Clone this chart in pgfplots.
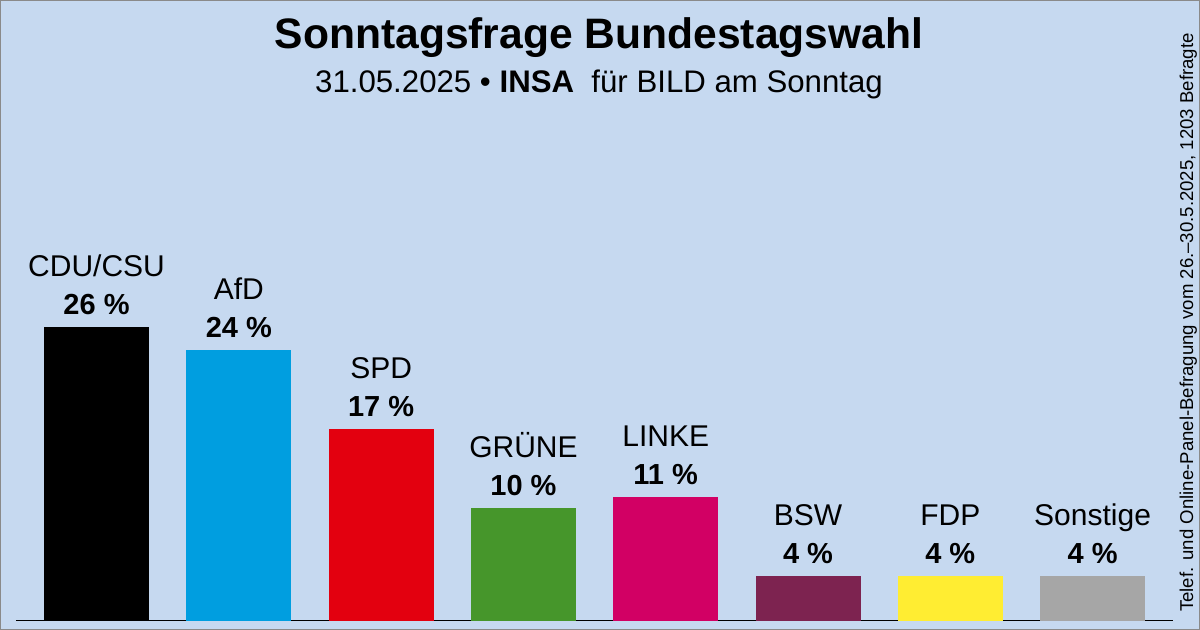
\documentclass[border=0pt]{standalone}
\usepackage{pgfplots}
\pgfplotsset{compat=1.18}
\usepackage{fontspec}
\setmainfont{Liberation Sans}

\definecolor{bg}{RGB}{198,217,240}
\definecolor{framegray}{RGB}{138,138,138}
\definecolor{cdu}{RGB}{0,0,0}
\definecolor{afd}{RGB}{0,158,224}
\definecolor{spd}{RGB}{227,0,15}
\definecolor{gruene}{RGB}{70,150,43}
\definecolor{linke}{RGB}{210,0,100}
\definecolor{bsw}{RGB}{125,35,80}
\definecolor{fdp}{RGB}{255,237,50}
\definecolor{sonst}{RGB}{166,166,166}

% one bar per party: colour, name
\pgfplotsset{
  party/.style 2 args={
    ybar, bar width=52.5pt, bar shift=0pt,
    fill=#1, draw=none,
    nodes near coords={#2\\{\fontsize{14.5}{19}\selectfont\bfseries\pgfmathprintnumber{\pgfplotspointmeta}~\%}},
  },
}

\begin{document}
\begin{tikzpicture}
% background and frame, 1px = 0.5pt
\fill[bg] (0,0) rectangle (600pt,315pt);
\draw[framegray, line width=0.5pt] (0.25pt,0.25pt) rectangle (599.75pt,314.75pt);

\node[anchor=base, inner sep=0pt, font=\fontsize{21.3}{25}\selectfont\bfseries] at (299.5pt,290.5pt)
  {Sonntagsfrage Bundestagswahl};
\node[anchor=base, inner sep=0pt, font=\fontsize{15.6}{19}\selectfont] at (299.5pt,268.5pt)
  {31.05.2025 • \textbf{INSA}\ \ für BILD am Sonntag};
\node[anchor=base, inner sep=0pt, rotate=90, font=\fontsize{9.3}{11}\selectfont] at (596.5pt,153.75pt)
  {Telef. und Online-Panel-Befragung vom 26.–30.5.2025, 1203 Befragte};

\begin{axis}[
    at={(8pt,4.5pt)}, anchor=south west,
    scale only axis,
    width=578.5pt, height=169.5pt,
    xmin=-0.566, xmax=7.565,
    ymin=0, ymax=30,
    axis x line=bottom, axis y line=none,
    x axis line style={-, black, line width=0.5pt},
    xtick=\empty, ytick=\empty,
    clip=false,
    /pgf/number format/assume math mode=true,
    every node near coord/.append style={
      anchor=south, inner sep=0pt, yshift=6pt, align=center, text=black,
      font=\fontsize{15}{19}\selectfont},
  ]
  \addplot[party={cdu}{CDU/CSU}]   coordinates {(0,26)};
  \addplot[party={afd}{AfD}]       coordinates {(1,24)};
  \addplot[party={spd}{SPD}]       coordinates {(2,17)};
  \addplot[party={gruene}{GRÜNE}]  coordinates {(3,10)};
  \addplot[party={linke}{LINKE}]   coordinates {(4,11)};
  \addplot[party={bsw}{BSW}]       coordinates {(5,4)};
  \addplot[party={fdp}{FDP}]       coordinates {(6,4)};
  \addplot[party={sonst}{Sonstige}] coordinates {(7,4)};
\end{axis}
\end{tikzpicture}
\end{document}
